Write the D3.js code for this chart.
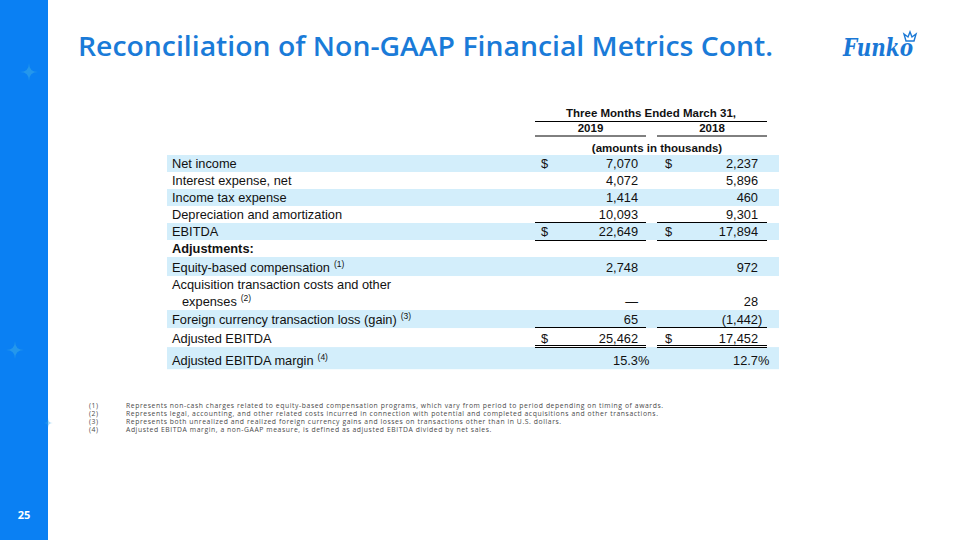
<!DOCTYPE html>
<html><head><meta charset="utf-8">
<script src="https://cdn.jsdelivr.net/npm/d3@7"></script>
<style>html,body{margin:0;padding:0;background:#fff;}svg{display:block;}</style>
</head><body>
<svg id="c" width="960" height="540"></svg>
<script>
// ---- data ----
const rowLabels = ["Net income","Interest expense, net","Income tax expense","Depreciation and amortization","EBITDA","Adjustments:","Equity-based compensation","Acquisition transaction costs and other|expenses","Foreign currency transaction loss (gain)","Adjusted EBITDA","Adjusted EBITDA margin"];
const rowNotes = ["","","","","","","(1)","(2)","(3)","","(4)"];
const values2019 = ["7,070","4,072","1,414","10,093","22,649","","2,748","—","65","25,462","15.3%"];
const values2018 = ["2,237","5,896","460","9,301","17,894","","972","28","(1,442)","17,452","12.7%"];
const dollarRows = [true,false,false,false,true,false,false,false,false,true,false];
const shadedRows = [true,false,true,false,true,false,true,false,true,false,true];
const rowLines = [1,1,1,1,1,1,1.12,2,1.06,1.12,1.3];
const boldRows = [false,false,false,false,false,true,false,false,false,false,false];
const columns = ["2019","2018"];
const headerTitle = "Three Months Ended March 31,";
const unitsNote = "(amounts in thousands)";
const footnotes = [
 ["(1)","Represents non-cash charges related  to equity-based compensation programs, which vary from period to period depending on timing of awards."],
 ["(2)","Represents legal, accounting, and other related  costs incurred in connection with potential and completed acquisitions and other transactions."],
 ["(3)","Represents both unrealized and realized  foreign currency gains and losses on transactions other than in U.S. dollars."],
 ["(4)","Adjusted EBITDA margin, a non-GAAP measure, is defined as adjusted EBITDA divided by net sales."]
];
const pageNumber = "25";
const titleText = "Reconciliation of Non-GAAP Financial Metrics Cont.";

// ---- drawing ----
const svg = d3.select("#c");
const blue = "#0a80f3";

// sidebar
svg.append("rect").attr("x",0).attr("y",0).attr("width",48).attr("height",540).attr("fill",blue);
function sparkle(cx,cy,r,op){
  const p = `M${cx},${cy-r} Q${cx},${cy} ${cx+r},${cy} Q${cx},${cy} ${cx},${cy+r} Q${cx},${cy} ${cx-r},${cy} Q${cx},${cy} ${cx},${cy-r}Z`;
  svg.append("path").attr("d",p).attr("fill","#35a6e8").attr("opacity",op);
}
sparkle(29,72,9,0.6); sparkle(15,350,9,0.6); sparkle(48,423,5,0.4);
svg.append("text").attr("x",24).attr("y",519).attr("text-anchor","middle")
  .attr("font-family","Open Sans").attr("font-weight",700).attr("font-size",11).attr("fill","#fff").text(pageNumber);

// title
svg.append("text").attr("x",78).attr("y",56).attr("font-family","Open Sans").attr("font-weight",600)
  .attr("font-size",27).attr("fill","#1a7bd8").attr("textLength",695).attr("lengthAdjust","spacingAndGlyphs").text(titleText);

// logo
const logo = svg.append("g");
logo.append("text").attr("x",843).attr("y",56).attr("font-family","DejaVu Serif").attr("font-style","italic")
  .attr("font-weight",700).attr("font-size",25).attr("fill","#1a78d6").attr("textLength",70).attr("lengthAdjust","spacingAndGlyphs").text("Funko");
logo.append("path").attr("d","M906,41 l-2,-7 l4,3 l2,-5 l2,5 l4,-3 l-2,7 z").attr("fill","none").attr("stroke","#1a78d6").attr("stroke-width",1.4);

// table scales
const cum = [0]; rowLines.forEach((l,i)=>cum.push(cum[i]+l));
const y = d3.scaleLinear().domain([0, cum[cum.length-1]]).range([155, 155 + 17*cum[cum.length-1]]);
const x = d3.scaleOrdinal().domain(["label","d2019","v2019","d2018","v2018"]).range([172,541,638,665,758]);
const colBand = d3.scaleOrdinal().domain(columns).range([[535,646],[657,767]]);
const tableLeft = 167, tableRight = 779;
const font = "Liberation Sans, Arial, sans-serif";
const fs = 12.8;

const rows = svg.append("g").selectAll("g").data(rowLabels).join("g");
rows.append("rect").attr("x",tableLeft).attr("width",tableRight-tableLeft)
  .attr("y",(d,i)=>y(cum[i])).attr("height",(d,i)=>y(cum[i+1])-y(cum[i]))
  .attr("fill",(d,i)=>shadedRows[i]?"#d3eefb":"none");

rows.each(function(d,i){
  const g = d3.select(this);
  const parts = d.split("|");
  const bottom = y(cum[i+1]);
  const base = bottom - 4;
  parts.forEach((t,j)=>{
    const ty = base - (parts.length-1-j)*17;
    const tx = x("label") + (j>0?10:0);
    const tt = g.append("text").attr("x",tx).attr("y",ty).attr("font-family",font).attr("font-size",fs)
      .attr("font-weight",boldRows[i]?700:400).attr("fill","#111").text(t);
    if (j===parts.length-1 && rowNotes[i]) {
      tt.append("tspan").attr("dx",4).attr("dy",-5).attr("font-size",8.5).text(rowNotes[i]);
    }
  });
  const vals = [values2019[i], values2018[i]];
  vals.forEach((v,k)=>{
    if(!v) return;
    const key = k===0?"2019":"2018";
    let main = v, hang = "";
    if (v.startsWith("(") && v.endsWith(")")) { main = v.slice(0,-1); hang=")"; }
    if (v.endsWith("%")) { main = v.slice(0,-1); hang="%"; }
    g.append("text").attr("x",x("v"+key)).attr("y",base).attr("text-anchor","end")
      .attr("font-family",font).attr("font-size",fs).attr("fill","#111").text(main);
    if (hang) g.append("text").attr("x",x("v"+key)).attr("y",base).attr("font-family",font).attr("font-size",fs).attr("fill","#111").text(hang);
    if (dollarRows[i]) g.append("text").attr("x",x("d"+key)).attr("y",base).attr("font-family",font).attr("font-size",fs).attr("fill","#111").text("$");
  });
});

// header
const hdr = svg.append("g").attr("font-family",font).attr("font-weight",700).attr("font-size",11.5).attr("fill","#111");
hdr.append("text").attr("x",(535+767)/2).attr("y",117).attr("text-anchor","middle").text(headerTitle);
hdr.append("line").attr("x1",535).attr("x2",767).attr("y1",121.5).attr("y2",121.5).attr("stroke","#000").attr("stroke-width",1);
columns.forEach(c=>{
  const [a,b] = colBand(c);
  hdr.append("text").attr("x",(a+b)/2).attr("y",132).attr("text-anchor","middle").text(c);
  hdr.append("line").attr("x1",a).attr("x2",b).attr("y1",136).attr("y2",136).attr("stroke","#000").attr("stroke-width",1);
});
hdr.append("text").attr("x",657).attr("y",152).attr("text-anchor","middle").text(unitsNote);

// rules under rows
function rule(rowIdx, offset){
  columns.forEach(c=>{
    const [a,b] = colBand(c);
    const yy = Math.round(y(cum[rowIdx+1])+offset)+0.5;
    svg.append("line").attr("x1",a).attr("x2",b).attr("y1",yy).attr("y2",yy)
      .attr("stroke","#000").attr("stroke-width",1);
  });
}
rule(3,-1.5); rule(4,-0.5); rule(8,-0.8); rule(9,-2.5); rule(9,-0.3);

// footnotes
const fn = svg.append("g").attr("font-family","Open Sans").attr("font-size",6.8).attr("letter-spacing",0.58).attr("fill","#4a4a4a");
footnotes.forEach((f,i)=>{
  fn.append("text").attr("x",89).attr("y",408+i*8).text(f[0]);
  fn.append("text").attr("x",126).attr("y",408+i*8).text(f[1]);
});
</script>
</body></html>
